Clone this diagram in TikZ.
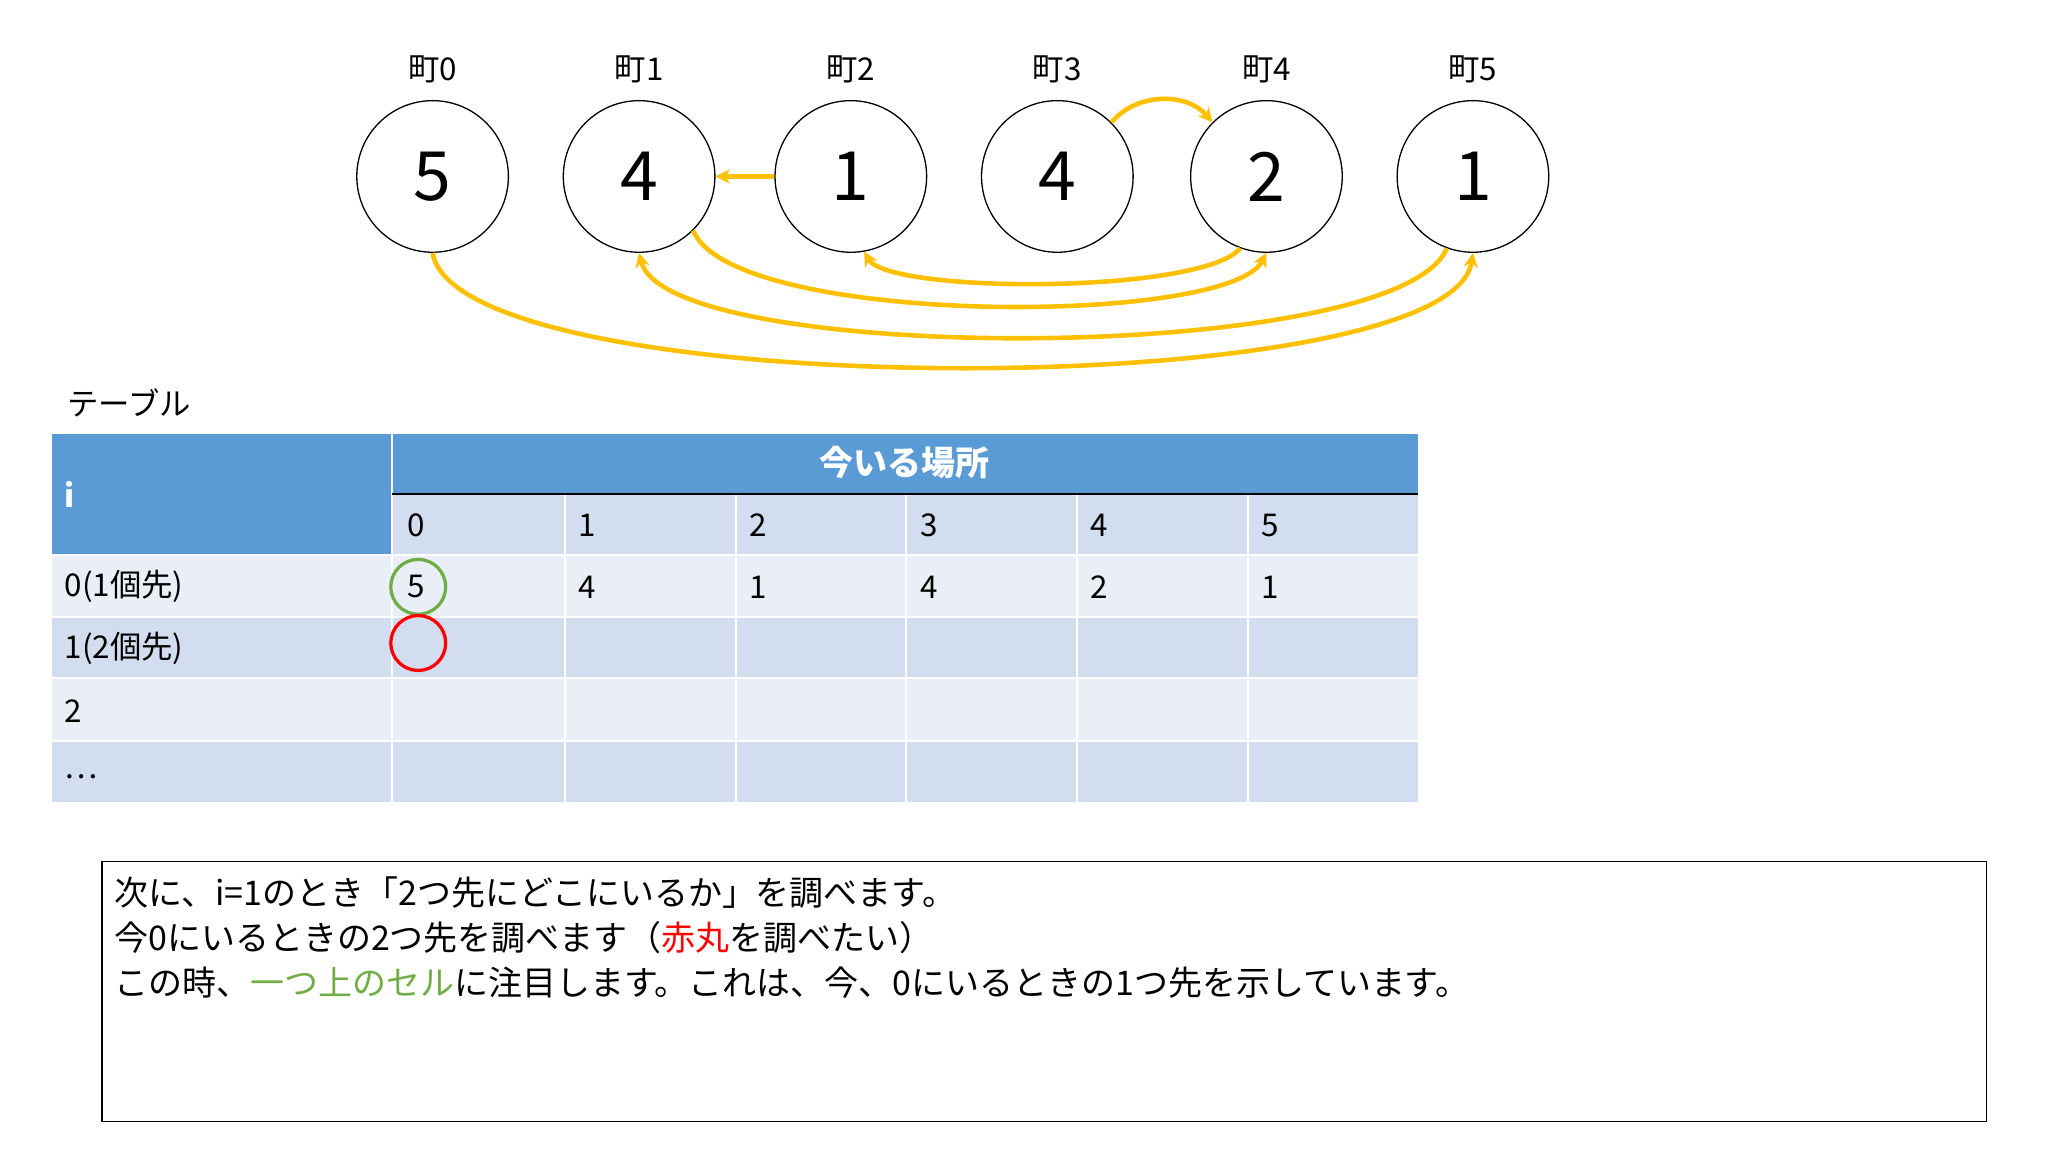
\documentclass[tikz,border=0pt]{standalone}
\usepackage{fontspec}
\setmainfont{Noto Sans CJK JP}
\usetikzlibrary{arrows.meta}
\definecolor{hb}{HTML}{5B9BD5}
\definecolor{dk}{HTML}{D2DEEF}
\definecolor{lt}{HTML}{EAEFF7}
\definecolor{ar}{HTML}{FFC000}
\definecolor{gr}{HTML}{70AD47}
\tikzset{x=1pt,y=-1pt,
 town/.style={circle,draw,line width=1pt,minimum size=116pt,inner sep=0pt,font=\fontsize{52}{56}\selectfont},
 tl/.style={font=\fontsize{24}{26}\selectfont},
 arr/.style={draw=ar,line width=3.5pt,-{Stealth[length=11pt,width=11pt]}},
 ct/.style={anchor=west,font=\fontsize{24}{26}\selectfont},
 bt/.style={anchor=west,font=\fontsize{26}{28}\selectfont}}
\begin{document}
\begin{tikzpicture}
\useasboundingbox (0,0) rectangle (1567,881);
\foreach \i/\x/\v in {0/331/5,1/489/4,2/651/1,3/809/4,4/969/2,5/1127/1}{
 \node[town] (c\i) at (\x,135) {\v};
 \node[tl] (l\i) at (\x,53) {町\i};
}
\draw[arr] (c2.west) -- (c1.east);
\draw[arr] (c3.45) to[out=50,in=130] (c4.135);
\draw[arr] (c4.-110) .. controls (920,225) and (680,225) .. (c2.-80);
\draw[arr] (c1.-45) .. controls (560,250) and (940,250) .. (c4.-90);
\draw[arr] (c5.-110) .. controls (1070,280) and (510,280) .. (c1.-90);
\draw[arr] (c0.-90) .. controls (350,310) and (1110,310) .. (c5.-90);
\node[tl,anchor=west] (tb) at (48,308) {テーブル};
% table
\fill[hb] (40,332) rectangle (300,425);
\fill[hb] (300,332) rectangle (1085,378);
\fill[dk] (300,378) rectangle (1085,425);
\fill[lt] (40,425) rectangle (1085,472);
\fill[dk] (40,472) rectangle (1085,519);
\fill[lt] (40,519) rectangle (1085,567);
\fill[dk] (40,567) rectangle (1085,614);
\foreach \y in {425,472,519,567}{\draw[white,line width=1.5pt] (40,\y) -- (1085,\y);}
\draw[white,line width=1.5pt] (300,332) -- (300,614);
\foreach \x in {432,563,693,824,955}{\draw[white,line width=1.5pt] (\x,378) -- (\x,614);}
\draw[black,line width=1.2pt] (300,378) -- (1085,378);
\node[ct,text=white,font=\bfseries\fontsize{24}{26}\selectfont] (hi) at (46,378) {i};
\node[text=white,font=\bfseries\fontsize{26}{28}\selectfont] (hp) at (692,354) {今いる場所};
\foreach \j/\x in {0/308,1/439,2/570,3/701,4/831,5/962}{\node[ct] (h\j) at (\x,402) {\j};}
\foreach \v/\x in {5/308,4/439,1/570,4/701,2/831,1/962}{\node[ct] at (\x,449) {\v};}
\node[ct] (r0) at (46,449) {0(1個先)};
\node[ct] (r1) at (46,496) {1(2個先)};
\node[ct] (r2) at (46,544) {2};
\node[ct] (r3) at (46,594) {…};
\node[circle,draw=gr,line width=2.5pt,minimum size=42pt] (g) at (320,449) {};
\node[circle,draw=red,line width=2.5pt,minimum size=42pt] (rd) at (320,492) {};
% box
\draw[line width=1.2pt] (78,659) rectangle (1520,858);
\node[bt] (t1) at (84,683) {次に、i=1のとき「2つ先にどこにいるか」を調べます。};
\node[bt] (t2) at (84,717) {今0にいるときの2つ先を調べます（\textcolor{red}{赤丸}を調べたい）};
\node[bt] (t3) at (84,752) {この時、\textcolor{gr}{一つ上のセル}に注目します。これは、今、0にいるときの1つ先を示しています。};
\end{tikzpicture}
\end{document}
